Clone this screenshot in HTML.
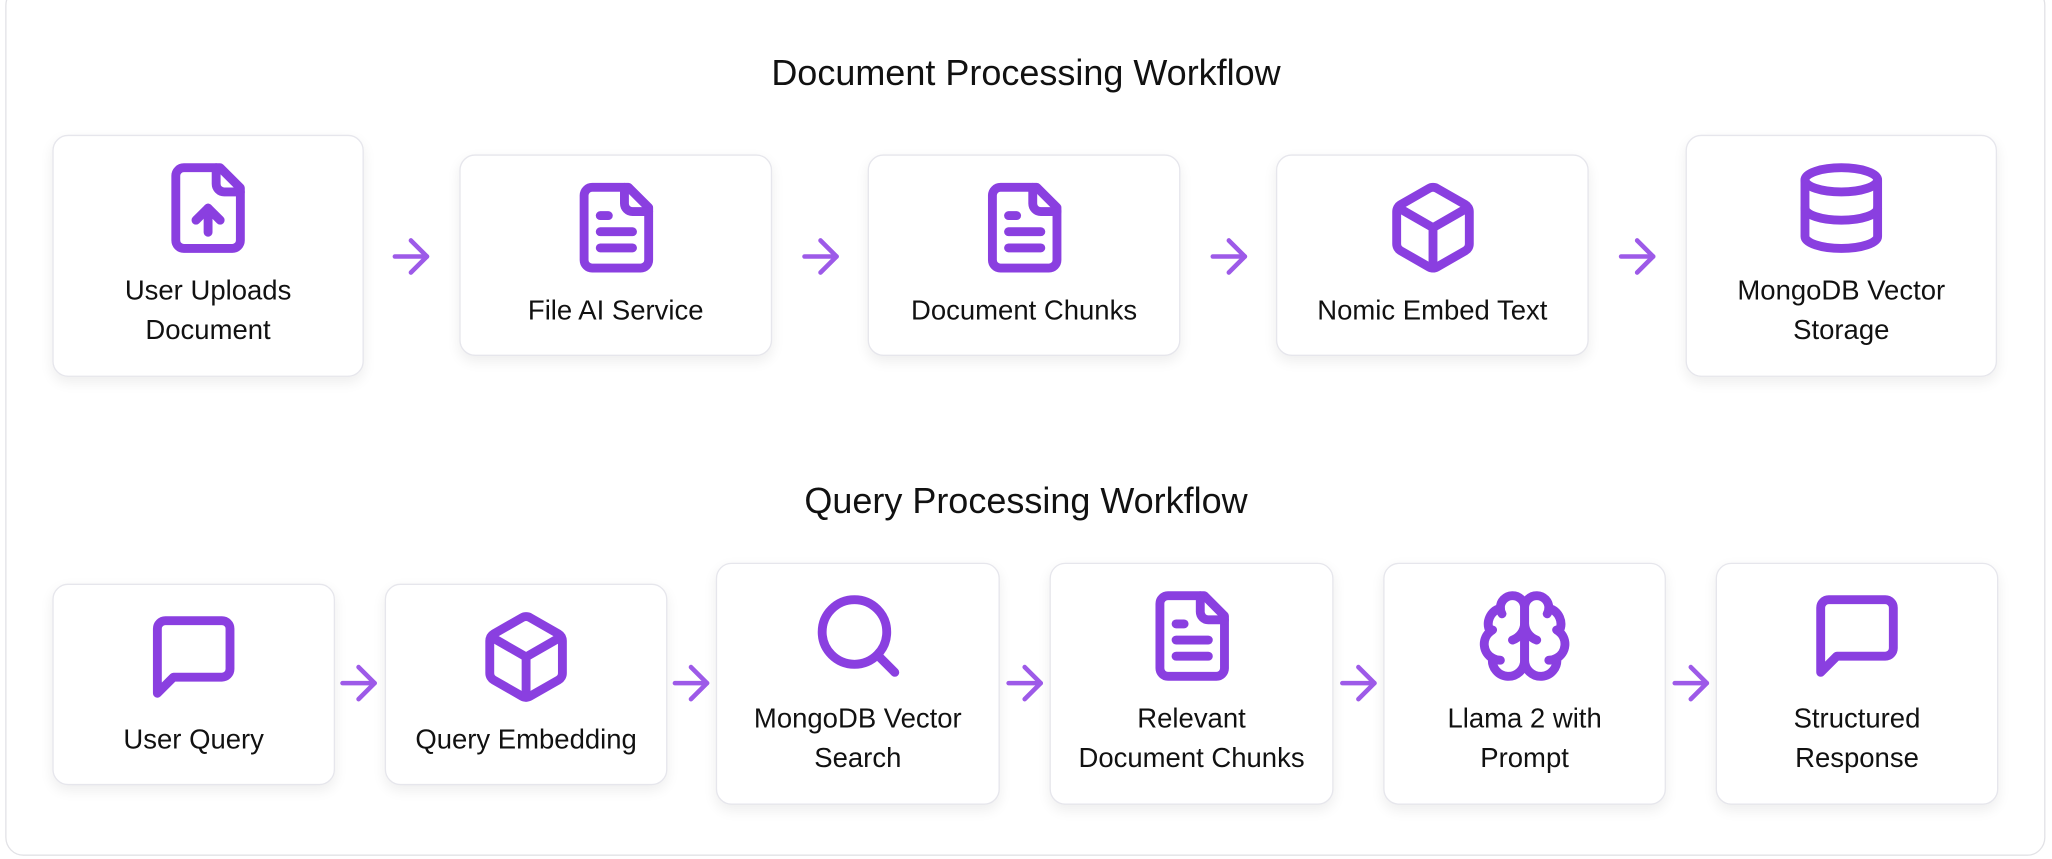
<!DOCTYPE html>
<html><head><meta charset="utf-8"><style>
html,body{margin:0;padding:0;background:#fff;width:2052px;height:858px;overflow:hidden}
#s{position:absolute;left:0;top:0;width:1568px;height:656px;transform:scale(1.30867);transform-origin:0 0;font-family:"Liberation Sans",Arial,sans-serif}
.outer{position:absolute;left:4px;top:-10px;width:1559px;height:664px;border:1.5px solid #e2e2e6;border-radius:14px;background:#fff;box-sizing:border-box}
.t{position:absolute;left:0;width:1568px;text-align:center;font-size:27.5px;color:#111}
.c{position:absolute;background:#fff;border:1.5px solid #e6e6ec;border-radius:12px;box-shadow:0 4px 10px rgba(0,0,0,0.07);box-sizing:border-box;display:flex;flex-direction:column;align-items:center;padding-top:18px;font-size:21px;line-height:30px;color:#111;text-align:center}
.c svg{width:74px;height:74px;margin-bottom:12px;flex:none}
.a{position:absolute;width:42px;height:42px}
svg{fill:none;stroke:#8a3fe0;stroke-width:2.2;stroke-linecap:round;stroke-linejoin:round}
.a{stroke:#9d5ae8;stroke-width:2}
</style></head><body><div id="s">
<div class="outer"></div>
<div class="t" style="top:40px">Document Processing Workflow</div>
<div class="t" style="top:367px">Query Processing Workflow</div>

<div class="c" style="left:40px;top:103px;width:238px;height:185px">
<svg viewBox="0 0 24 24"><path d="M15 2H6a2 2 0 0 0-2 2v16a2 2 0 0 0 2 2h12a2 2 0 0 0 2-2V7Z"/><path d="M14 2v4a2 2 0 0 0 2 2h4"/><path d="M12 12v6"/><path d="m15 15-3-3-3 3"/></svg>
<div>User Uploads<br>Document</div></div>
<div class="c" style="left:351px;top:118px;width:239px;height:154px">
<svg viewBox="0 0 24 24"><path d="M15 2H6a2 2 0 0 0-2 2v16a2 2 0 0 0 2 2h12a2 2 0 0 0 2-2V7Z"/><path d="M14 2v4a2 2 0 0 0 2 2h4"/><path d="M10 9H8"/><path d="M16 13H8"/><path d="M16 17H8"/></svg>
<div>File AI Service</div></div>
<div class="c" style="left:663px;top:118px;width:239px;height:154px">
<svg viewBox="0 0 24 24"><path d="M15 2H6a2 2 0 0 0-2 2v16a2 2 0 0 0 2 2h12a2 2 0 0 0 2-2V7Z"/><path d="M14 2v4a2 2 0 0 0 2 2h4"/><path d="M10 9H8"/><path d="M16 13H8"/><path d="M16 17H8"/></svg>
<div>Document Chunks</div></div>
<div class="c" style="left:975px;top:118px;width:239px;height:154px">
<svg viewBox="0 0 24 24"><path d="M21 8a2 2 0 0 0-1-1.73l-7-4a2 2 0 0 0-2 0l-7 4A2 2 0 0 0 3 8v8a2 2 0 0 0 1 1.73l7 4a2 2 0 0 0 2 0l7-4A2 2 0 0 0 21 16Z"/><path d="m3.3 7 8.7 5 8.7-5"/><path d="M12 22V12"/></svg>
<div>Nomic Embed Text</div></div>
<div class="c" style="left:1288px;top:103px;width:238px;height:185px">
<svg viewBox="0 0 24 24"><ellipse cx="12" cy="5" rx="9" ry="3"/><path d="M3 5V19A9 3 0 0 0 21 19V5"/><path d="M3 12A9 3 0 0 0 21 12"/></svg>
<div>MongoDB Vector<br>Storage</div></div>

<svg class="a" style="left:293px;top:175px" viewBox="0 0 24 24"><path d="M5 12h14"/><path d="m12 5 7 7-7 7"/></svg>
<svg class="a" style="left:606px;top:175px" viewBox="0 0 24 24"><path d="M5 12h14"/><path d="m12 5 7 7-7 7"/></svg>
<svg class="a" style="left:918px;top:175px" viewBox="0 0 24 24"><path d="M5 12h14"/><path d="m12 5 7 7-7 7"/></svg>
<svg class="a" style="left:1230px;top:175px" viewBox="0 0 24 24"><path d="M5 12h14"/><path d="m12 5 7 7-7 7"/></svg>

<div class="c" style="left:40px;top:446px;width:216px;height:154px">
<svg viewBox="0 0 24 24"><path d="M21 15a2 2 0 0 1-2 2H7l-4 4V5a2 2 0 0 1 2-2h14a2 2 0 0 1 2 2z"/></svg>
<div>User Query</div></div>
<div class="c" style="left:294px;top:446px;width:216px;height:154px">
<svg viewBox="0 0 24 24"><path d="M21 8a2 2 0 0 0-1-1.73l-7-4a2 2 0 0 0-2 0l-7 4A2 2 0 0 0 3 8v8a2 2 0 0 0 1 1.73l7 4a2 2 0 0 0 2 0l7-4A2 2 0 0 0 21 16Z"/><path d="m3.3 7 8.7 5 8.7-5"/><path d="M12 22V12"/></svg>
<div>Query Embedding</div></div>
<div class="c" style="left:547px;top:430px;width:217px;height:185px">
<svg viewBox="0 0 24 24"><circle cx="11" cy="11" r="8"/><path d="m21 21-4.3-4.3"/></svg>
<div>MongoDB Vector<br>Search</div></div>
<div class="c" style="left:802px;top:430px;width:217px;height:185px">
<svg viewBox="0 0 24 24"><path d="M15 2H6a2 2 0 0 0-2 2v16a2 2 0 0 0 2 2h12a2 2 0 0 0 2-2V7Z"/><path d="M14 2v4a2 2 0 0 0 2 2h4"/><path d="M10 9H8"/><path d="M16 13H8"/><path d="M16 17H8"/></svg>
<div>Relevant<br>Document Chunks</div></div>
<div class="c" style="left:1057px;top:430px;width:216px;height:185px">
<svg viewBox="0 0 24 24"><path d="M12 5a3 3 0 1 0-5.997.125 4 4 0 0 0-2.526 5.77 4 4 0 0 0 .556 6.588A4 4 0 1 0 12 18Z"/><path d="M12 5a3 3 0 1 1 5.997.125 4 4 0 0 1 2.526 5.77 4 4 0 0 1-.556 6.588A4 4 0 1 1 12 18Z"/><path d="M15 13a4.5 4.5 0 0 1-3-4 4.5 4.5 0 0 1-3 4"/><path d="M17.599 6.5a3 3 0 0 0 .399-1.375"/><path d="M6.003 5.125A3 3 0 0 0 6.401 6.5"/><path d="M3.477 10.896a4 4 0 0 1 .585-.396"/><path d="M19.938 10.5a4 4 0 0 1 .585.396"/><path d="M6 18a4 4 0 0 1-1.967-.516"/><path d="M19.967 17.484A4 4 0 0 1 18 18"/></svg>
<div>Llama 2 with<br>Prompt</div></div>
<div class="c" style="left:1311px;top:430px;width:216px;height:185px">
<svg viewBox="0 0 24 24"><path d="M21 15a2 2 0 0 1-2 2H7l-4 4V5a2 2 0 0 1 2-2h14a2 2 0 0 1 2 2z"/></svg>
<div>Structured<br>Response</div></div>

<svg class="a" style="left:253px;top:501px" viewBox="0 0 24 24"><path d="M5 12h14"/><path d="m12 5 7 7-7 7"/></svg>
<svg class="a" style="left:507px;top:501px" viewBox="0 0 24 24"><path d="M5 12h14"/><path d="m12 5 7 7-7 7"/></svg>
<svg class="a" style="left:762px;top:501px" viewBox="0 0 24 24"><path d="M5 12h14"/><path d="m12 5 7 7-7 7"/></svg>
<svg class="a" style="left:1017px;top:501px" viewBox="0 0 24 24"><path d="M5 12h14"/><path d="m12 5 7 7-7 7"/></svg>
<svg class="a" style="left:1271px;top:501px" viewBox="0 0 24 24"><path d="M5 12h14"/><path d="m12 5 7 7-7 7"/></svg>
</div></body></html>
